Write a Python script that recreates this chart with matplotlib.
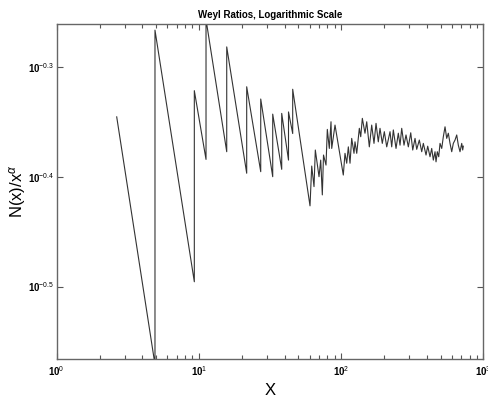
import matplotlib
matplotlib.use("Agg")
import matplotlib.pyplot as plt
from matplotlib.ticker import NullFormatter, NullLocator, FixedLocator, LogLocator

plt.rcParams['font.family'] = ['Liberation Sans', 'DejaVu Sans']
plt.rcParams['mathtext.fontset'] = 'custom'
plt.rcParams['mathtext.rm'] = 'Liberation Sans'
plt.rcParams['mathtext.bf'] = 'Liberation Sans:bold'
plt.rcParams['mathtext.it'] = 'Liberation Sans:italic'

# eigenvalue x and Weyl ratio N(x)/x^alpha
x_vals = [2.642, 4.91, 4.91, 9.284, 9.284, 11.22, 11.22, 15.69, 15.69, 21.68,
          21.68, 27.21, 27.21, 33.04, 33.04, 38.22, 38.22, 42.66, 42.66, 45.66,
          45.66, 60.44, 62.13, 64.48, 65.86, 69.93, 71.87, 73.76, 75.2, 78.3,
          79.98, 82.6, 84.9, 85.9, 90.6, 103.6, 106.5, 109.5, 112.4, 115.5,
          118.7, 123.2, 125.2, 128.8, 134.3, 137.4, 141.0, 147.2, 151.4, 157.9,
          164.1, 170.3, 176.0, 182.6, 187.7, 194.8, 201.3, 209.3, 220.8, 226.9,
          232.9, 243.3, 252.5, 259.6, 266.8, 276.9, 286.0, 297.0, 308.8, 318.9,
          331.0, 340.2, 354.8, 368.9, 378.6, 395.5, 406.4, 421.9, 433.6, 445.1,
          457.5, 465.0, 474.9, 485.8, 496.1, 510.0, 523.3, 538.0, 552.9, 567.5,
          583.3, 599.6, 615.2, 632.4, 650.1, 667.2, 685.7, 705.0, 716.2, 723.4]
ratio = [0.4513, 0.2685, 0.5413, 0.3194, 0.4768, 0.4128, 0.5535, 0.4195, 0.5226, 0.4010,
         0.4807, 0.4023, 0.4685, 0.3981, 0.4539, 0.4043, 0.4546, 0.4122, 0.4560, 0.4358,
         0.4782, 0.3745, 0.4071, 0.3899, 0.4210, 0.3981, 0.4122, 0.3832, 0.4166, 0.4079,
         0.4396, 0.4224, 0.4467, 0.4224, 0.4436, 0.3995, 0.4181, 0.4095, 0.4238, 0.4095,
         0.4314, 0.4181, 0.4283, 0.4181, 0.4406, 0.4329, 0.4499, 0.4361, 0.4467, 0.4238,
         0.4436, 0.4269, 0.4452, 0.4283, 0.4406, 0.4269, 0.4375, 0.4238, 0.4375, 0.4238,
         0.4391, 0.4224, 0.4361, 0.4253, 0.4406, 0.4253, 0.4345, 0.4238, 0.4365, 0.4210,
         0.4314, 0.4216, 0.4299, 0.4195, 0.4269, 0.4166, 0.4244, 0.4151, 0.4224, 0.4122,
         0.4195, 0.4107, 0.4195, 0.4151, 0.4269, 0.4224, 0.4329, 0.4420, 0.4314, 0.4361,
         0.4269, 0.4195, 0.4269, 0.4299, 0.4345, 0.4253, 0.4195, 0.4269, 0.4210, 0.4244]

x_ticks = [1, 10, 100, 1000]
x_tick_labels = [r'$\mathbf{10}^{\mathrm{0}}$', r'$\mathbf{10}^{\mathrm{1}}$',
                 r'$\mathbf{10}^{\mathrm{2}}$', r'$\mathbf{10}^{\mathrm{3}}$']
y_exps = [-0.5, -0.4, -0.3]
y_tick_labels = [r'$\mathbf{10}^{\mathrm{-0.5}}$', r'$\mathbf{10}^{\mathrm{-0.4}}$',
                 r'$\mathbf{10}^{\mathrm{-0.3}}$']

fig = plt.figure(figsize=(4.88, 4.01), dpi=100)
ax = fig.add_axes([0.1162, 0.1047, 0.8742, 0.8354])

ax.plot(x_vals, ratio, color='#333333', lw=0.8)

ax.set_xscale('log')
ax.set_yscale('log')
ax.set_xlim(1, 1000)
ax.set_ylim(10 ** -0.566, 10 ** -0.261)

ax.xaxis.set_major_locator(FixedLocator(x_ticks))
ax.set_xticklabels(x_tick_labels)
ax.xaxis.set_minor_locator(LogLocator(base=10, subs=range(2, 10)))
ax.xaxis.set_minor_formatter(NullFormatter())

ax.yaxis.set_major_locator(FixedLocator([10 ** e for e in y_exps]))
ax.set_yticklabels(y_tick_labels)
ax.yaxis.set_minor_locator(NullLocator())

ax.tick_params(which='both', direction='in', top=True, right=True,
               colors='#555555', labelcolor='black', labelsize=7, width=0.8)
ax.tick_params(which='major', length=4.5, pad=4)
ax.tick_params(axis='y', which='major', pad=1.5)
ax.tick_params(which='minor', length=3)
for s in ax.spines.values():
    s.set_color('#666666')
    s.set_linewidth(1.0)

ax.set_title('Weyl Ratios, Logarithmic Scale', fontsize=7, fontweight='bold', pad=4)
ax.set_xlabel('X', fontsize=12, labelpad=3)
ax.set_ylabel(r'N(x)/x$^{\alpha}$', fontsize=12)
ax.yaxis.set_label_coords(-0.067, 0.5)

fig.savefig('out.png', dpi=100)
